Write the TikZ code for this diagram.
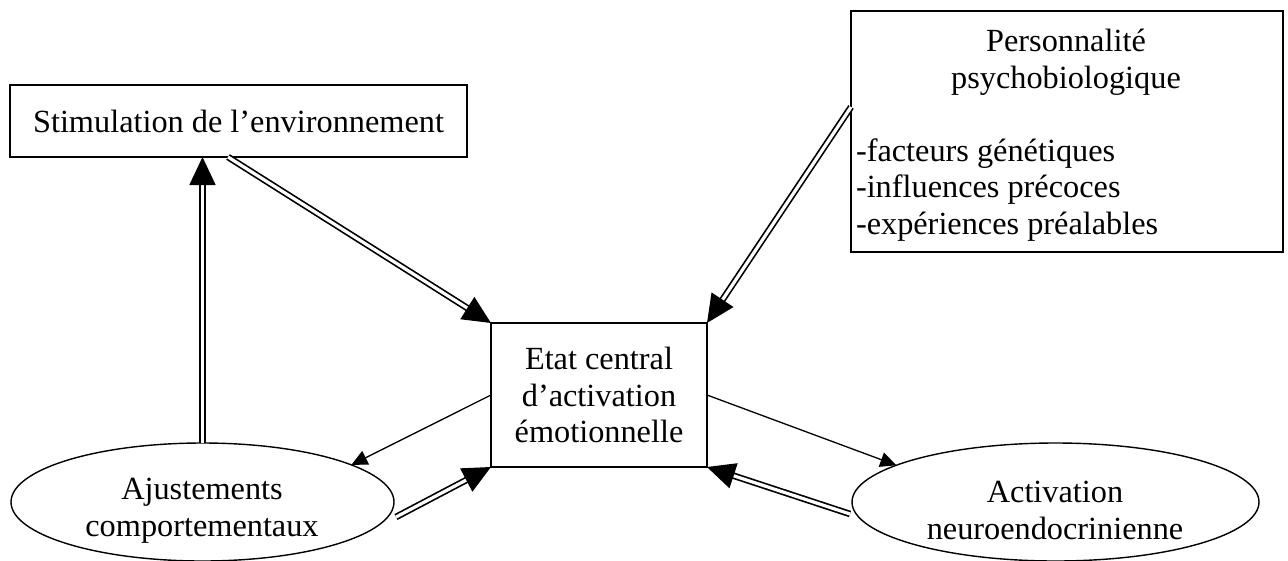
\documentclass[tikz,border=0pt]{standalone}
\usepackage{fontspec}
\setmainfont{Liberation Serif}
\usetikzlibrary{arrows.meta,shapes.geometric,calc}
\begin{document}
\begin{tikzpicture}[x=1pt,y=-1pt,
  every node/.style={font=\fontsize{32.3}{36.5}\selectfont, inner sep=0pt, outer sep=0pt},
  box/.style={draw, line width=1.6pt, rectangle, align=center},
  ell/.style={draw, line width=1.4pt, ellipse},
  txt/.style={align=center},
  sgl/.style={line width=1.3pt, -{Triangle[length=16pt,width=15pt]}},
  dbl/.style={double, double distance=3.2pt, line width=1.7pt, -{Triangle[length=28pt,width=26pt]}}
]
\useasboundingbox (0,0) rectangle (1288,560);
% boxes
\node[box, minimum width=457pt, minimum height=72pt] (stim) at (238.5,121) {Stimulation de l’environnement};
\node[box, minimum width=432pt, minimum height=241pt] (pers) at (1067,131.5) {};
\node[txt] (perstitle) at (1066,62.5) {Personnalité\\psychobiologique};
\node[align=left, anchor=west] (perslist) at (856,190) {-facteurs génétiques\\-influences précoces\\-expériences préalables};
\node[box, minimum width=216pt, minimum height=144pt] (cent) at (599,395) {Etat central\\d’activation\\émotionnelle};
% ellipses
\node[ell, minimum width=383pt, minimum height=118pt] (ajust) at (202.5,502) {};
\node[txt] (ajusttext) at (202,510.5) {Ajustements\\comportementaux};
\node[ell, minimum width=407pt, minimum height=118pt] (activ) at (1055.5,502) {};
\node[txt] (activtext) at (1055,510.5) {Activation\\neuroendocrinienne};
% connectors
\draw[dbl] ([xshift=218pt]stim.south west) -- (cent.north west);
\draw[dbl] ([yshift=24.5pt]pers.west) -- (cent.north east);
\draw[dbl] (ajust.north) -- (stim.south -| ajust.north);
\draw[sgl] (cent.west) -- (ajust.14);
\draw[dbl] ($(ajust.east)+(2,15)$) -- (cent.south west);
\draw[sgl] (cent.east) -- (activ.167);
\draw[dbl] ($(activ.west)+(-2,12)$) -- (cent.south east);
\end{tikzpicture}
\end{document}
